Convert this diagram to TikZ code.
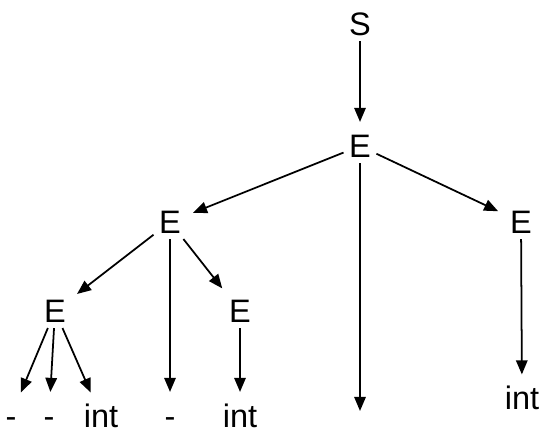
\documentclass[tikz,border=0pt]{standalone}
\usepackage{fontspec}
\setmainfont{Liberation Sans}
\usetikzlibrary{arrows.meta}
\tikzset{
  %% ---- symbols ----
  sym/.style   = {inner sep=3pt, text height=13pt, text depth=0pt,
                  font=\fontsize{18.5}{21}\selectfont},
  %% ---- arrows ----
  arrow/.style = {-{Triangle[length=8pt,width=6.5pt]}, line width=1pt,
                  shorten >=4pt},
}
\begin{document}
\begin{tikzpicture}
  \useasboundingbox (0,0) rectangle (10.98,-8.76);

  %% Nonterminals
  \node[sym] (s)  at (7.20,-0.48) {S};
  \node[sym] (e1) at (7.20,-2.92) {E};
  \node[sym] (e2) at (3.40,-4.44) {E};
  \node[sym] (e3) at (10.42,-4.44) {E};
  \node[sym] (e4) at (1.10,-6.22) {E};
  \node[sym] (e5) at (4.80,-6.22) {E};

  %% Leaves
  \node[sym] (l1) at (0.22,-8.32) {-};
  \node[sym] (l2) at (0.98,-8.32) {-};
  \node[sym] (l3) at (2.02,-8.32) {int};
  \node[sym] (l4) at (3.40,-8.32) {-};
  \node[sym] (l5) at (4.80,-8.32) {int};
  \node[sym] (l6) at (10.44,-7.97) {int};
  \coordinate (l7) at (7.20,-8.36);

  %% Edges
  \draw[arrow] (s) -- (e1);
  \draw[arrow] (e1) -- (e2);
  \draw[arrow] (e1) -- (l7);
  \draw[arrow] (e1) -- (e3);
  \draw[arrow] (e2) -- (e4);
  \draw[arrow] (e2) -- (l4);
  \draw[arrow] (e2) -- (e5);
  \draw[arrow] (e3) -- (l6);
  \draw[arrow] (e4) -- (l1);
  \draw[arrow] (e4) -- (l2);
  \draw[arrow] (e4) -- (l3);
  \draw[arrow] (e5) -- (l5);

\end{tikzpicture}
\end{document}
